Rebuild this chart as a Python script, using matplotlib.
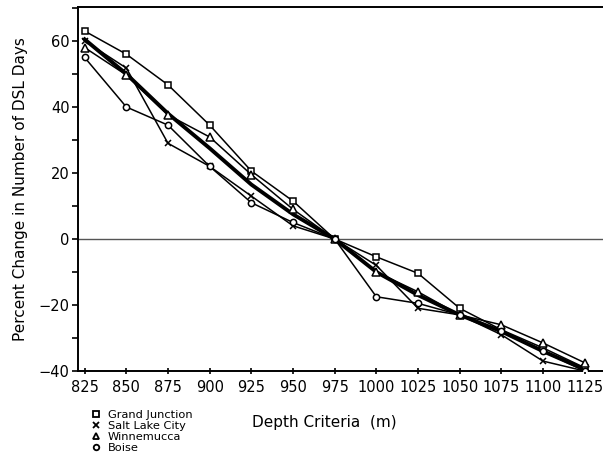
import numpy as np
import matplotlib
matplotlib.use("Agg")
import matplotlib.pyplot as plt
from matplotlib.ticker import MultipleLocator

plt.rcParams['font.family'] = ['DejaVu Sans']
plt.rcParams['font.size'] = 10
plt.rcParams['axes.linewidth'] = 1.4

# 深度基準 (m)
depth = [825, 850, 875, 900, 925, 950, 975, 1000, 1025, 1050, 1075, 1100, 1125]

# 各地点の DSL 日数の変化率 (%)
grand_junction = [63, 56, 46.7, 34.5, 20.6, 11.5, 0, -5.4, -10.4, -21, -27.5, -33, -39]
salt_lake_city = [60, 51.8, 29, 22, 13, 4, 0, -8, -21, -23, -29, -37, -40]
winnemucca = [58, 49.7, 37.6, 30.9, 19.5, 9, 0, -10, -16, -23, -26, -31.5, -37.5]
boise = [55, 40, 34.5, 22, 11, 5, 0, -17.5, -19.5, -23, -28, -34, -40]
# 4地点の平均
average = [60.5, 50, 38, 27.5, 16.5, 7.5, 0, -10, -17, -23, -28, -34, -39.5]

station_names = ["Grand Junction", "Salt Lake City", "Winnemucca", "Boise"]

fig = plt.figure(figsize=(6.03, 4.63), dpi=100)
ax = fig.add_axes([78/603, 1 - 371/463, 1 - 78/603, (371 - 7)/463])

ax.axhline(0, color="#555555", linewidth=1.0, zorder=1)

ax.plot(depth, average, color="black", linewidth=2.8, zorder=2)

styles = [("s", 5), ("x", 5), ("^", 5.5), ("o", 4.5)]
series = [grand_junction, salt_lake_city, winnemucca, boise]
for vals, (mk, ms), name in zip(series, styles, station_names):
    ax.plot(depth, vals, color="black", linewidth=1.1, marker=mk,
            markersize=ms, markerfacecolor="white",
            markeredgecolor="black", markeredgewidth=1.1,
            label=name, zorder=3)

ax.set_xlim(821, 1136)
ax.set_ylim(-40, 70.3)
ax.set_xticks(depth)
ax.yaxis.set_minor_locator(MultipleLocator(10))
ax.set_yticks([-40, -20, 0, 20, 40, 60])
ax.tick_params(axis="y", which="both", direction="out", length=4, width=1.2, labelsize=10.5, pad=2)
ax.tick_params(axis="x", direction="inout", length=5, width=1.2, labelsize=10.5, pad=4)
ax.spines["right"].set_visible(False)

ax.set_ylabel("Percent Change in Number of DSL Days", fontsize=11, labelpad=8)
fig.text(324/603, 1 - 423/463, "Depth Criteria  (m)", fontsize=11, ha="center", va="center")

# 凡例 (左下)
leg_handles = []
for (mk, ms) in styles:
    h, = ax.plot([], [], linestyle="none", marker=mk, markersize=4,
                 markerfacecolor="white", markeredgecolor="black", markeredgewidth=1.3)
    leg_handles.append(h)
fig.legend(leg_handles, station_names, loc="upper left",
           bbox_to_anchor=(86/603, 1 - 404/463), frameon=False, fontsize=8.2,
           handlelength=0.8, handletextpad=0.6, labelspacing=0.1, borderpad=0)

fig.savefig("out.png", dpi=100)
